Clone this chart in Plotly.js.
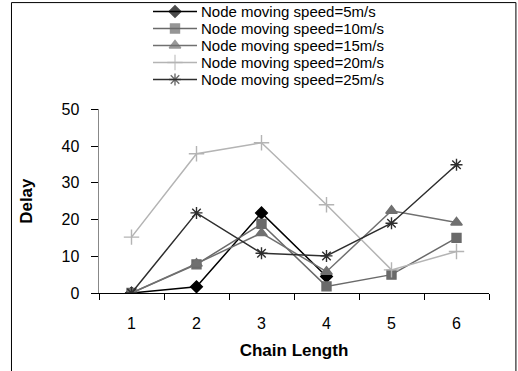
<!DOCTYPE html>
<html><head><meta charset="utf-8">
<script src="https://cdn.plot.ly/plotly-3.0.1.min.js"></script>
<style>html,body{margin:0;padding:0;background:#fff}#chart{width:518px;height:371px}</style>
</head><body><div id="chart"></div>
<script>
const categories = ["1","2","3","4","5","6"];
const seriesNames = ["Node moving speed=5m/s","Node moving speed=10m/s","Node moving speed=15m/s","Node moving speed=20m/s","Node moving speed=25m/s"];
const speed5 = [0, 1.7, 21.8, 4.5, null, null];
const speed10 = [0, 7.8, 18.8, 1.8, 5, 15];
const speed15 = [0, 8, 16.3, 5.8, 22.4, 19.2];
const speed20 = [15.2, 37.9, 40.9, 24, 6.3, 11.3];
const speed25 = [0, 21.8, 10.8, 10.1, 19, 34.9];
const yTicks = [0, 10, 20, 30, 40, 50];

const styles = [
  {color:'#000000', symbol:'diamond', size:9},
  {color:'#6a6a6a', symbol:'square', size:9},
  {color:'#707070', symbol:'triangle-up', size:10},
  {color:'#b4b4b4', symbol:'cross-thin-open', size:11},
  {color:'#2e2e2e', symbol:'asterisk-open', size:10}
];
const values = [speed5, speed10, speed15, speed20, speed25];

// main chart traces
const data = values.map((v,i)=>({
  x: categories, y: v, name: seriesNames[i], type:'scatter', mode:'lines+markers',
  xaxis:'x', yaxis:'y', showlegend:false,
  line:{color:styles[i].color, width:1.5},
  marker:{symbol:styles[i].symbol, size:styles[i].size, color:styles[i].color, line:{color:styles[i].color, width:1.4}},
  connectgaps:false
}));

// custom compact legend (sample line with a marker in the middle), rows by index
const legX = [54, 76, 98];
seriesNames.forEach((n,i)=>{
  data.push({
    x: legX, y: [i,i,i], type:'scatter', mode:'lines+markers', xaxis:'x2', yaxis:'y2',
    showlegend:false, hoverinfo:'skip',
    line:{color:styles[i].color, width:1.5},
    marker:{symbol:styles[i].symbol, size:[0, styles[i].size, 0], color:styles[i].color, line:{color:styles[i].color, width:1.4}}
  });
});
const annotations = seriesNames.map((n,i)=>({
  text:n, x:101, y:i, xref:'x2', yref:'y2', xanchor:'left', yanchor:'middle', showarrow:false,
  borderpad:0, font:{size:15, color:'#000'}
}));

const layout = {
  width:518, height:371,
  margin:{l:99, r:29, t:2, b:78},
  paper_bgcolor:'#fff', plot_bgcolor:'rgba(0,0,0,0)',
  font:{family:'Liberation Sans, Arial, sans-serif', size:16, color:'#000'},
  showlegend:false,
  xaxis:{type:'category', range:[-0.5,5.5], tickson:'boundaries', ticks:'outside', ticklen:6, tickcolor:'#000',
    showline:true, linecolor:'#000', linewidth:1, showgrid:false, zeroline:false,
    tickfont:{size:16}, ticklabelstandoff:16, fixedrange:true, anchor:'y',
    title:{text:'<b>Chain Length</b>', font:{size:17}, standoff:12}},
  yaxis:{domain:[0, 0.6313], range:[0,50], tickvals:yTicks, ticks:'outside', ticklen:7, tickcolor:'#000',
    showline:true, linecolor:'#888', linewidth:1.5, showgrid:false, zeroline:false,
    tickfont:{size:16}, ticklabelstandoff:8, fixedrange:true, anchor:'x',
    title:{text:'<b>Delay</b>', font:{size:17}, standoff:24}},
  xaxis2:{domain:[0,1], range:[0,390], visible:false, anchor:'y2', fixedrange:true},
  yaxis2:{domain:[0.64,1], range:[5.603,-0.559], visible:false, anchor:'x2', fixedrange:true},
  annotations: annotations,
  shapes:[{type:'rect', xref:'paper', yref:'paper', x0:-0.2244, x1:1.069, y0:-0.35, y1:0.998,
    line:{color:'#000', width:1}, fillcolor:'rgba(0,0,0,0)', layer:'below'}]
};
Plotly.newPlot('chart', data, layout, {displayModeBar:false, staticPlot:true});
</script></body></html>
